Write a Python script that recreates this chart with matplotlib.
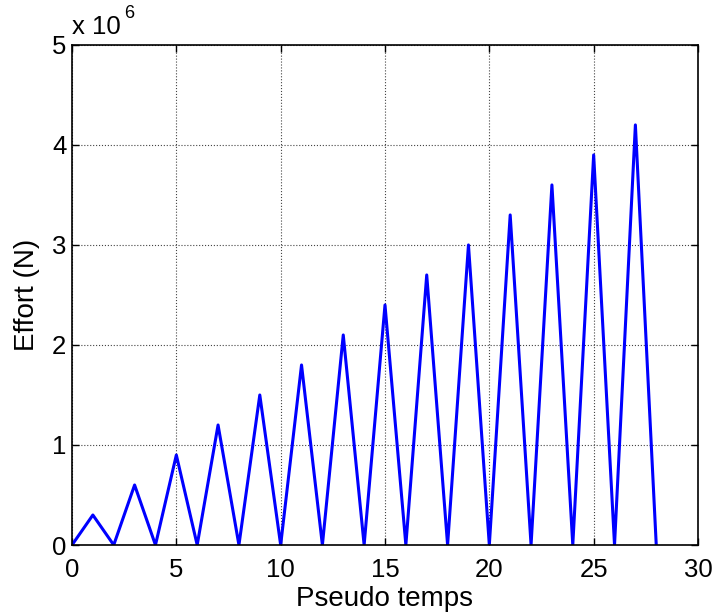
import matplotlib
matplotlib.use("Agg")
import matplotlib.pyplot as plt

plt.rcParams['font.family'] = ['Liberation Sans', 'DejaVu Sans']

# Pseudo-time steps and load values (N)
pseudo_temps = list(range(0, 29))
effort = [0.0, 0.3e6, 0.0, 0.6e6, 0.0, 0.9e6, 0.0, 1.2e6, 0.0, 1.5e6, 0.0,
          1.8e6, 0.0, 2.1e6, 0.0, 2.4e6, 0.0, 2.7e6, 0.0, 3.0e6, 0.0, 3.3e6,
          0.0, 3.6e6, 0.0, 3.9e6, 0.0, 4.2e6, 0.0]

x_ticks = [0, 5, 10, 15, 20, 25, 30]
y_ticks = [0, 1, 2, 3, 4, 5]
scale = 1e6

fig = plt.figure(figsize=(7.15, 6.15), dpi=100)
ax = fig.add_axes([0.1007, 0.1138, 0.8755, 0.8132])

ax.plot(pseudo_temps, [v / scale for v in effort], color='#0000ff', lw=2.2)

ax.set_xlim(0, 30)
ax.set_ylim(0, 5)
ax.set_xticks(x_ticks)
ax.set_yticks(y_ticks)
ax.set_xticklabels([str(t) for t in x_ticks])
ax.set_yticklabels([str(t) for t in y_ticks])
ax.tick_params(direction='in', length=5, width=1, labelsize=18.5,
               top=True, right=True)
ax.tick_params(axis='x', pad=9)
ax.tick_params(axis='y', pad=4)
ax.grid(True, color='#444444', linestyle=':', linewidth=0.8)
for s in ax.spines.values():
    s.set_linewidth(1.2)

ax.set_xlabel('Pseudo temps', fontsize=20, labelpad=3)
ax.set_ylabel('Effort (N)', fontsize=20, labelpad=9)
ax.text(0.0, 1.012, 'x 10', transform=ax.transAxes, fontsize=18.5,
        ha='left', va='bottom')
ax.text(0.083, 1.045, '6', transform=ax.transAxes, fontsize=13,
        ha='left', va='bottom')

fig.savefig('out.png', dpi=100)
